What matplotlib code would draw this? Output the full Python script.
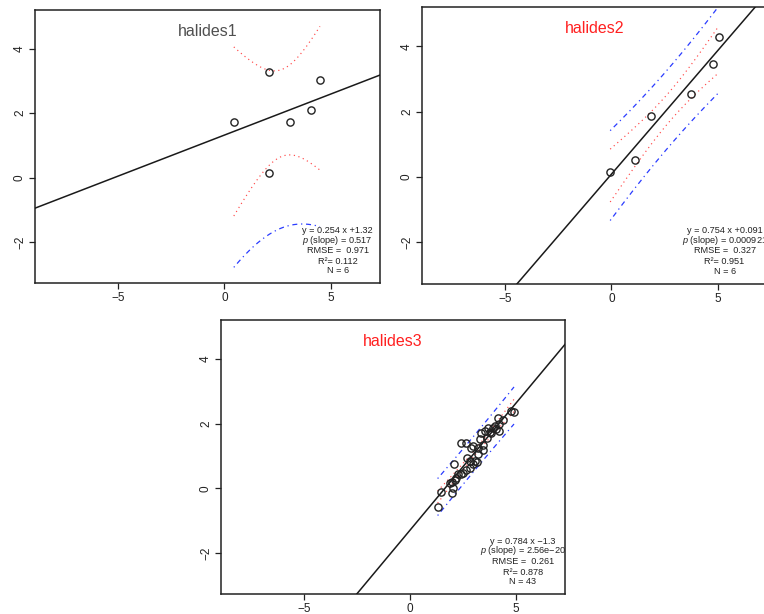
import numpy as np
import matplotlib
matplotlib.use("Agg")
import matplotlib.pyplot as plt

plt.rcParams['font.family'] = ['Liberation Sans', 'DejaVu Sans']
plt.rcParams['mathtext.fontset'] = 'custom'
plt.rcParams['mathtext.rm'] = 'Liberation Sans'
plt.rcParams['mathtext.it'] = 'Liberation Sans:italic'

# ---------------- data ----------------
titles = ["halides1", "halides2", "halides3"]
title_colors = ["#505050", "#ff2020", "#ff2020"]

x1 = [0.44, 2.09, 2.09, 3.07, 4.06, 4.50]
y1 = [1.73, 3.28, 0.13, 1.71, 2.10, 3.02]

x2 = [-0.06, 1.12, 1.84, 3.73, 4.78, 5.06]
y2 = [0.16, 0.52, 1.86, 2.54, 3.45, 4.29]

x3 = [1.31, 1.49, 2.00, 2.04, 1.89, 1.97, 2.12, 2.20, 2.28, 2.40, 2.52,
      2.09, 2.67, 2.72, 2.83, 2.99, 3.07, 3.15, 2.41, 2.67, 2.91, 2.99,
      3.22, 3.22, 3.30, 3.46, 3.46, 3.54, 3.62, 3.77, 3.85, 3.93, 4.01,
      4.09, 4.17, 4.20, 4.40, 4.20, 4.76, 4.92, 3.69, 3.38, 2.83]
y3 = [-0.59, -0.13, -0.16, 0.02, 0.17, 0.20, 0.25, 0.33, 0.43, 0.45, 0.48,
      0.74, 0.55, 0.92, 0.64, 0.74, 0.84, 0.80, 1.41, 1.41, 1.25, 1.30,
      1.05, 1.25, 1.51, 1.35, 1.17, 1.76, 1.56, 1.74, 1.71, 1.87, 1.92,
      1.82, 2.18, 1.99, 2.12, 1.76, 2.38, 2.36, 1.87, 1.71, 0.84]

slopes = [0.254, 0.754, 0.784]
intercepts = [1.32, 0.091, -1.3]
p_labels = ["0.517", "0.000921", "2.56e\u221220"]
rmse = [0.971, 0.327, 0.261]
r2 = [0.112, 0.951, 0.878]
n_pts = [6, 6, 43]
t_crit = [2.776, 2.776, 2.0195]   # t(0.975, N-2)

eq_labels = ["y = 0.254 x +1.32", "y = 0.754 x +0.091", "y = 0.784 x \u22121.3"]

xs = [x1, x2, x3]
ys = [y1, y2, y3]

# ---------------- layout ----------------
W, H = 764, 614
fig = plt.figure(figsize=(W / 100, H / 100), dpi=100)

def pos(l, t, r, b):
    return [l / W, 1 - b / H, (r - l) / W, (b - t) / H]

rects = [pos(35, 10, 380, 283), pos(422, 7, 767, 284), pos(221, 320, 565, 594)]

for i in range(3):
    ax = fig.add_axes(rects[i])
    x = np.array(xs[i]); y = np.array(ys[i])
    a, b = slopes[i], intercepts[i]
    n = n_pts[i]
    s = rmse[i] * np.sqrt(n / (n - 2))
    xbar = x.mean(); sxx = ((x - xbar) ** 2).sum()
    xx = np.linspace(x.min(), x.max(), 200)
    fit = a * xx + b
    conf = t_crit[i] * s * np.sqrt(1 / n + (xx - xbar) ** 2 / sxx)
    pred = t_crit[i] * s * np.sqrt(1 + 1 / n + (xx - xbar) ** 2 / sxx)

    xl = np.array([-8.93, 7.33])
    ax.plot(xl, a * xl + b, color='#1a1a1a', lw=1.1, zorder=3)
    for sign in (1, -1):
        ax.plot(xx, fit + sign * conf, color='#ff4848', lw=0.85, ls=(0, (1, 3)), zorder=2)
        ax.plot(xx, fit + sign * pred, color='#2a3cff', lw=0.9, ls=(0, (1, 3, 4, 3)), zorder=2)
    ax.plot(x, y, 'o', mfc='none', mec='#222222', mew=1.0, ms=5.2, zorder=4)

    ax.set_xlim(-8.93, 7.33)
    ax.set_ylim(-3.27, 5.2)
    ax.set_xticks([-5, 0, 5])
    ax.set_yticks([-2, 0, 2, 4])
    ax.tick_params(direction='out', length=4.5, width=0.9, labelsize=8.5,
                   pad=2.0, colors='#222222')
    for lab in ax.get_yticklabels():
        lab.set_rotation(90)
        lab.set_va('center')
    for sp in ax.spines.values():
        sp.set_linewidth(1.1)
        sp.set_color('#222222')

    ax.text(0.5, 0.923, titles[i], transform=ax.transAxes, ha='center', va='center',
            fontsize=11.5, color=title_colors[i])

    lines = [eq_labels[i],
             "$p$ (slope) = " + p_labels[i],
             "RMSE =  %.3f" % rmse[i],
             "R\u00b2= %.3f" % r2[i],
             "N = %d" % n]
    ly = [-1.64, -1.94, -2.26, -2.59, -2.89]
    for txt, yy in zip(lines, ly):
        ax.text(5.33, yy, txt, ha='center', va='center', fontsize=6.6, color='#222222')

fig.savefig("out.png", dpi=100)
